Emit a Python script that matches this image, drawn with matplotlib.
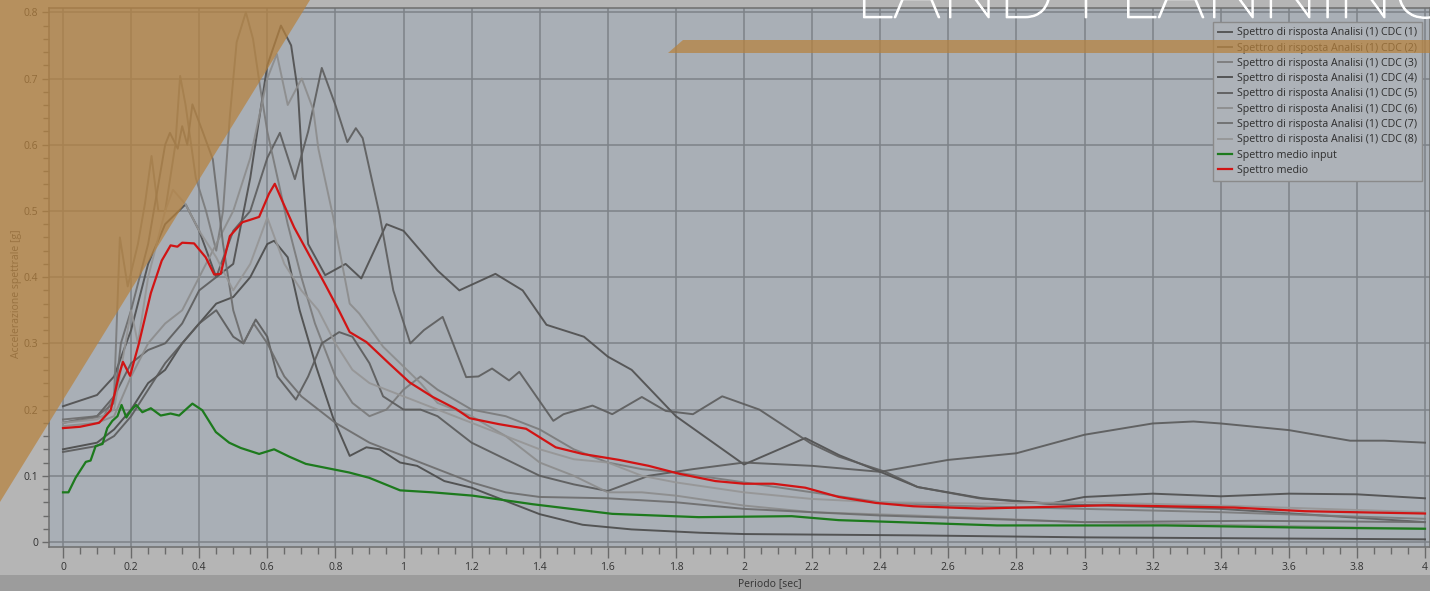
import matplotlib
matplotlib.use("Agg")
import numpy as np
import matplotlib.pyplot as plt
import matplotlib.patheffects as pe
from matplotlib.patches import Polygon, Rectangle
from matplotlib.ticker import MultipleLocator, FuncFormatter

# --- data: (periodo [s], accelerazione [g]) ---
cdc1 = np.array([(0, 0.205), (0.1, 0.222), (0.15, 0.25), (0.2, 0.32), (0.25, 0.42), (0.3, 0.48),
                 (0.36, 0.51), (0.4, 0.47), (0.45, 0.4), (0.5, 0.42), (0.55, 0.55), (0.6, 0.72),
                 (0.64, 0.78), (0.67, 0.75), (0.69, 0.68), (0.705, 0.55), (0.72, 0.45), (0.77, 0.403),
                 (0.83, 0.42), (0.876, 0.398), (0.95, 0.48), (1.0, 0.47), (1.1, 0.41), (1.164, 0.38),
                 (1.27, 0.405), (1.35, 0.38), (1.42, 0.328), (1.53, 0.31), (1.6, 0.28), (1.67, 0.26),
                 (1.8, 0.19), (2.0, 0.117), (2.18, 0.157), (2.28, 0.131), (2.4, 0.106), (2.51, 0.083),
                 (2.7, 0.066), (2.9, 0.058), (3.0, 0.068), (3.2, 0.073), (3.4, 0.069), (3.6, 0.073),
                 (3.8, 0.072), (4.0, 0.066)])
cdc2 = np.array([(0, 0.18), (0.1, 0.19), (0.15, 0.22), (0.2, 0.27), (0.25, 0.29), (0.3, 0.3),
                 (0.35, 0.33), (0.4, 0.38), (0.45, 0.4), (0.5, 0.47), (0.55, 0.5), (0.6, 0.58),
                 (0.637, 0.618), (0.681, 0.548), (0.72, 0.62), (0.76, 0.716), (0.8, 0.66), (0.835, 0.604),
                 (0.86, 0.625), (0.88, 0.61), (0.93, 0.494), (0.97, 0.38), (1.02, 0.3), (1.06, 0.32),
                 (1.115, 0.34), (1.184, 0.249), (1.22, 0.25), (1.26, 0.262), (1.31, 0.244), (1.34, 0.257),
                 (1.44, 0.183), (1.47, 0.193), (1.555, 0.206), (1.613, 0.193), (1.7, 0.219), (1.77, 0.198),
                 (1.85, 0.193), (1.936, 0.22), (2.045, 0.2), (2.196, 0.149), (2.278, 0.129), (2.415, 0.106),
                 (2.51, 0.083), (2.69, 0.066), (2.88, 0.058), (3.0, 0.056), (3.4, 0.05), (4.0, 0.03)])
cdc3 = np.array([(0, 0.18), (0.12, 0.19), (0.15, 0.22), (0.167, 0.46), (0.19, 0.386), (0.22, 0.45),
                 (0.241, 0.512), (0.26, 0.583), (0.28, 0.5), (0.3, 0.5), (0.33, 0.6), (0.344, 0.704),
                 (0.36, 0.66), (0.39, 0.55), (0.42, 0.5), (0.45, 0.44), (0.47, 0.5), (0.49, 0.643),
                 (0.51, 0.755), (0.537, 0.8), (0.558, 0.76), (0.578, 0.69), (0.6, 0.62), (0.63, 0.55),
                 (0.66, 0.48), (0.7, 0.4), (0.74, 0.33), (0.8, 0.25), (0.85, 0.21), (0.9, 0.19),
                 (0.95, 0.2), (1.0, 0.23), (1.05, 0.25), (1.1, 0.23), (1.2, 0.2), (1.3, 0.19),
                 (1.4, 0.17), (1.5, 0.14), (1.6, 0.12), (1.7, 0.11), (1.8, 0.105), (2.0, 0.09),
                 (2.2, 0.075), (2.4, 0.06), (2.6, 0.055), (3.0, 0.05), (3.4, 0.045), (4.0, 0.035)])
cdc4 = np.array([(0, 0.14), (0.1, 0.15), (0.15, 0.17), (0.2, 0.2), (0.25, 0.24), (0.3, 0.26),
                 (0.35, 0.3), (0.4, 0.33), (0.45, 0.36), (0.5, 0.37), (0.55, 0.4), (0.6, 0.45),
                 (0.62, 0.455), (0.66, 0.43), (0.695, 0.35), (0.744, 0.264), (0.793, 0.188), (0.842, 0.13),
                 (0.891, 0.143), (0.93, 0.14), (0.99, 0.12), (1.04, 0.115), (1.12, 0.092), (1.2, 0.082),
                 (1.3, 0.062), (1.4, 0.042), (1.526, 0.026), (1.67, 0.019), (1.87, 0.014), (2.0, 0.012),
                 (2.5, 0.01), (3.0, 0.007), (4.0, 0.004)])
cdc5 = np.array([(0, 0.136), (0.1, 0.145), (0.15, 0.16), (0.2, 0.19), (0.25, 0.23), (0.3, 0.27),
                 (0.35, 0.3), (0.4, 0.33), (0.45, 0.35), (0.5, 0.31), (0.53, 0.3), (0.566, 0.336),
                 (0.6, 0.31), (0.63, 0.25), (0.684, 0.215), (0.72, 0.25), (0.76, 0.3), (0.811, 0.317),
                 (0.85, 0.31), (0.9, 0.27), (0.94, 0.22), (1.0, 0.2), (1.05, 0.2), (1.1, 0.19),
                 (1.2, 0.15), (1.3, 0.125), (1.4, 0.1), (1.5, 0.087), (1.6, 0.077), (1.72, 0.1),
                 (1.85, 0.11), (2.0, 0.12), (2.2, 0.115), (2.4, 0.106), (2.6, 0.124), (2.8, 0.134),
                 (3.0, 0.162), (3.2, 0.179), (3.32, 0.182), (3.4, 0.179), (3.6, 0.169), (3.78, 0.153),
                 (3.88, 0.153), (4.0, 0.15)])
cdc6 = np.array([(0, 0.175), (0.1, 0.18), (0.15, 0.19), (0.2, 0.25), (0.25, 0.3), (0.3, 0.33),
                 (0.35, 0.35), (0.4, 0.4), (0.45, 0.45), (0.5, 0.5), (0.55, 0.58), (0.6, 0.7),
                 (0.628, 0.737), (0.66, 0.66), (0.701, 0.7), (0.735, 0.653), (0.75, 0.594), (0.793, 0.492),
                 (0.842, 0.36), (0.87, 0.345), (0.94, 0.295), (0.99, 0.27), (1.05, 0.24), (1.1, 0.21),
                 (1.2, 0.19), (1.3, 0.16), (1.4, 0.12), (1.5, 0.1), (1.6, 0.075), (1.7, 0.075),
                 (1.8, 0.07), (2.0, 0.055), (2.2, 0.045), (2.5, 0.04), (3.0, 0.03), (4.0, 0.02)])
cdc7 = np.array([(0, 0.185), (0.1, 0.19), (0.15, 0.21), (0.17, 0.3), (0.2, 0.35), (0.25, 0.45),
                 (0.3, 0.6), (0.314, 0.618), (0.337, 0.594), (0.35, 0.628), (0.365, 0.6), (0.38, 0.661),
                 (0.41, 0.62), (0.44, 0.578), (0.47, 0.45), (0.5, 0.35), (0.53, 0.3), (0.56, 0.33),
                 (0.6, 0.3), (0.65, 0.25), (0.7, 0.22), (0.75, 0.2), (0.8, 0.18), (0.9, 0.15),
                 (1.0, 0.13), (1.1, 0.11), (1.2, 0.09), (1.3, 0.075), (1.4, 0.068), (1.5, 0.067),
                 (1.6, 0.066), (1.8, 0.06), (2.0, 0.05), (2.4, 0.04), (3.0, 0.03), (3.5, 0.032), (4.0, 0.03)])
cdc8 = np.array([(0, 0.18), (0.1, 0.185), (0.15, 0.2), (0.2, 0.35), (0.22, 0.3), (0.25, 0.4),
                 (0.3, 0.5), (0.323, 0.532), (0.36, 0.51), (0.4, 0.47), (0.45, 0.43), (0.5, 0.38),
                 (0.55, 0.42), (0.6, 0.49), (0.65, 0.42), (0.7, 0.38), (0.75, 0.35), (0.8, 0.3),
                 (0.85, 0.26), (0.9, 0.24), (0.95, 0.23), (1.0, 0.22), (1.1, 0.2), (1.2, 0.18),
                 (1.3, 0.16), (1.4, 0.14), (1.5, 0.125), (1.6, 0.12), (1.7, 0.1), (1.8, 0.09),
                 (2.0, 0.075), (2.2, 0.065), (2.4, 0.06), (2.7, 0.058), (3.0, 0.06), (3.4, 0.055), (4.0, 0.045)])

medio_input = np.array([(0, 0.075), (0.016, 0.075), (0.037, 0.097), (0.067, 0.121), (0.081, 0.123),
                        (0.096, 0.145), (0.116, 0.148), (0.13, 0.172), (0.145, 0.183), (0.16, 0.19),
                        (0.172, 0.207), (0.186, 0.188), (0.2, 0.199), (0.215, 0.207), (0.233, 0.196),
                        (0.258, 0.202), (0.287, 0.191), (0.316, 0.194), (0.341, 0.191), (0.38, 0.209),
                        (0.409, 0.199), (0.449, 0.166), (0.488, 0.15), (0.522, 0.142), (0.576, 0.133),
                        (0.62, 0.14), (0.664, 0.129), (0.713, 0.118), (0.791, 0.11), (0.84, 0.105),
                        (0.899, 0.097), (0.99, 0.078), (1.085, 0.075), (1.203, 0.07), (1.38, 0.057),
                        (1.613, 0.0425), (1.867, 0.0375), (2.14, 0.039), (2.278, 0.033), (2.743, 0.025),
                        (3.236, 0.025), (3.647, 0.0217), (4.0, 0.02)])
medio = np.array([(0, 0.172), (0.05, 0.174), (0.106, 0.18), (0.14, 0.199), (0.166, 0.255), (0.176, 0.272),
                  (0.197, 0.251), (0.223, 0.3), (0.258, 0.376), (0.29, 0.425), (0.316, 0.448), (0.336, 0.446),
                  (0.35, 0.452), (0.385, 0.451), (0.419, 0.43), (0.444, 0.404), (0.463, 0.405), (0.49, 0.462),
                  (0.527, 0.483), (0.546, 0.486), (0.576, 0.491), (0.605, 0.526), (0.622, 0.541), (0.644, 0.515),
                  (0.679, 0.475), (0.733, 0.424), (0.772, 0.387), (0.811, 0.349), (0.842, 0.317), (0.891, 0.302),
                  (0.959, 0.269), (1.018, 0.241), (1.086, 0.219), (1.154, 0.201), (1.194, 0.187), (1.28, 0.178),
                  (1.36, 0.171), (1.447, 0.143), (1.526, 0.133), (1.633, 0.124), (1.72, 0.115), (1.81, 0.103),
                  (1.916, 0.092), (2.0, 0.088), (2.086, 0.088), (2.18, 0.082), (2.278, 0.068), (2.387, 0.059),
                  (2.497, 0.054), (2.689, 0.0505), (2.894, 0.053), (3.07, 0.0556), (3.236, 0.054), (3.44, 0.052),
                  (3.647, 0.0465), (3.852, 0.0444), (4.0, 0.043)])

cdc_curves = [cdc1, cdc2, cdc3, cdc4, cdc5, cdc6, cdc7, cdc8]
cdc_colors = ['#4e4e4e', '#5c5c5c', '#7a7a7a', '#4a4a4a', '#5a5a5a', '#8c8c8c', '#6c6c6c', '#959595']
cdc_labels = ['Spettro di risposta Analisi (1) CDC (%d)' % (i + 1) for i in range(8)]

plt.rcParams['font.family'] = ['Open Sans', 'DejaVu Sans']

W, H = 1430, 591
fig = plt.figure(figsize=(W / 100, H / 100), dpi=100)
fig.patch.set_facecolor('#b5b5b5')
fig.add_artist(Rectangle((0, 0), 1, 16 / H, transform=fig.transFigure,
                         facecolor='#9c9c9c', edgecolor='none', zorder=-1))

ax = fig.add_axes([49 / W, 44 / H, 1381 / W, 539 / H])
ax.set_facecolor('#a9afb6')

for data, col, lab in zip(cdc_curves, cdc_colors, cdc_labels):
    ax.plot(data[:, 0], data[:, 1], color=col, lw=1.4, alpha=0.9, label=lab, zorder=3)
ax.plot(medio_input[:, 0], medio_input[:, 1], color='#1d7a1d', lw=1.6, label='Spettro medio input', zorder=4)
ax.plot(medio[:, 0], medio[:, 1], color='#d11414', lw=1.6, label='Spettro medio', zorder=5)

ax.set_xlim(-14 / 340.5, 4 + 5 / 340.5)
ax.set_ylim(-5 / 661, 0.8 + 4.3 / 661)
ax.xaxis.set_major_locator(MultipleLocator(0.2))
ax.xaxis.set_minor_locator(MultipleLocator(0.05))
ax.yaxis.set_major_locator(MultipleLocator(0.1))
ax.yaxis.set_minor_locator(MultipleLocator(0.02))
fmt = FuncFormatter(lambda v, p: ('%.1f' % v).rstrip('0').rstrip('.') if abs(v) > 1e-9 else '0')
ax.xaxis.set_major_formatter(fmt)
ax.yaxis.set_major_formatter(fmt)
ax.grid(True, which='major', color='#7d8288', lw=1.1, zorder=1)
ax.set_axisbelow(True)

ax.tick_params(axis='x', which='major', direction='out', length=8, width=1, color='#6a6a6a',
               labelsize=7.5, labelcolor='#333333', pad=3)
ax.tick_params(axis='x', which='minor', direction='out', length=5, width=1, color='#6a6a6a')
ax.tick_params(axis='y', which='major', direction='out', length=5, width=1, color='#6a6a6a',
               labelsize=7.5, labelcolor='#333333', pad=3)
ax.tick_params(axis='y', which='minor', direction='out', length=4, width=1, color='#6a6a6a')
for s in ax.spines.values():
    s.set_color('#6e6e6e')
    s.set_linewidth(1.1)

ax.set_xlabel('Periodo [sec]', fontsize=7.5, color='#333333')
ax.xaxis.set_label_coords((770 - 49) / 1381, -31 / 539)
ax.set_ylabel('Accelerazione spettrale [g]', fontsize=7.5, color='#4a4a4a')
ax.yaxis.set_label_coords((22 - 49) / 1381, (547 - 294) / 539)

leg = ax.legend(loc='upper left', bbox_to_anchor=(1213 / W, 1 - 22 / H), bbox_transform=fig.transFigure,
                fontsize=7.7, frameon=True, fancybox=False, framealpha=1, facecolor='#adb2b8',
                edgecolor='#8a8a8a', handlelength=1.3, handletextpad=0.4, labelspacing=0.4,
                borderpad=0.5, borderaxespad=0)
for t in leg.get_texts():
    t.set_color('#2e2e2e')
leg.set_zorder(8)

# overlays of the screenshot
orange = '#b7823d'
fig.add_artist(Polygon([(0, 1), (310 / W, 1), (0, 1 - 502 / H)], closed=True,
                       transform=fig.transFigure, facecolor=orange, edgecolor='none', alpha=0.72, zorder=10))
fig.add_artist(Polygon([(668 / W, 1 - 53 / H), (683 / W, 1 - 40 / H), (1, 1 - 40 / H), (1, 1 - 53 / H)],
                       closed=True, transform=fig.transFigure, facecolor=orange, edgecolor='none',
                       alpha=0.72, zorder=10))
fig.text(855 / W, 1 - 17.5 / H, 'LAND PLANNING', color='white', fontsize=54.5,
         family=['Lato', 'DejaVu Sans'], fontweight='light', ha='left', va='baseline', zorder=20,
         path_effects=[pe.withStroke(linewidth=1.2, foreground='white')])

fig.savefig('out.png', dpi=100, facecolor=fig.get_facecolor())
